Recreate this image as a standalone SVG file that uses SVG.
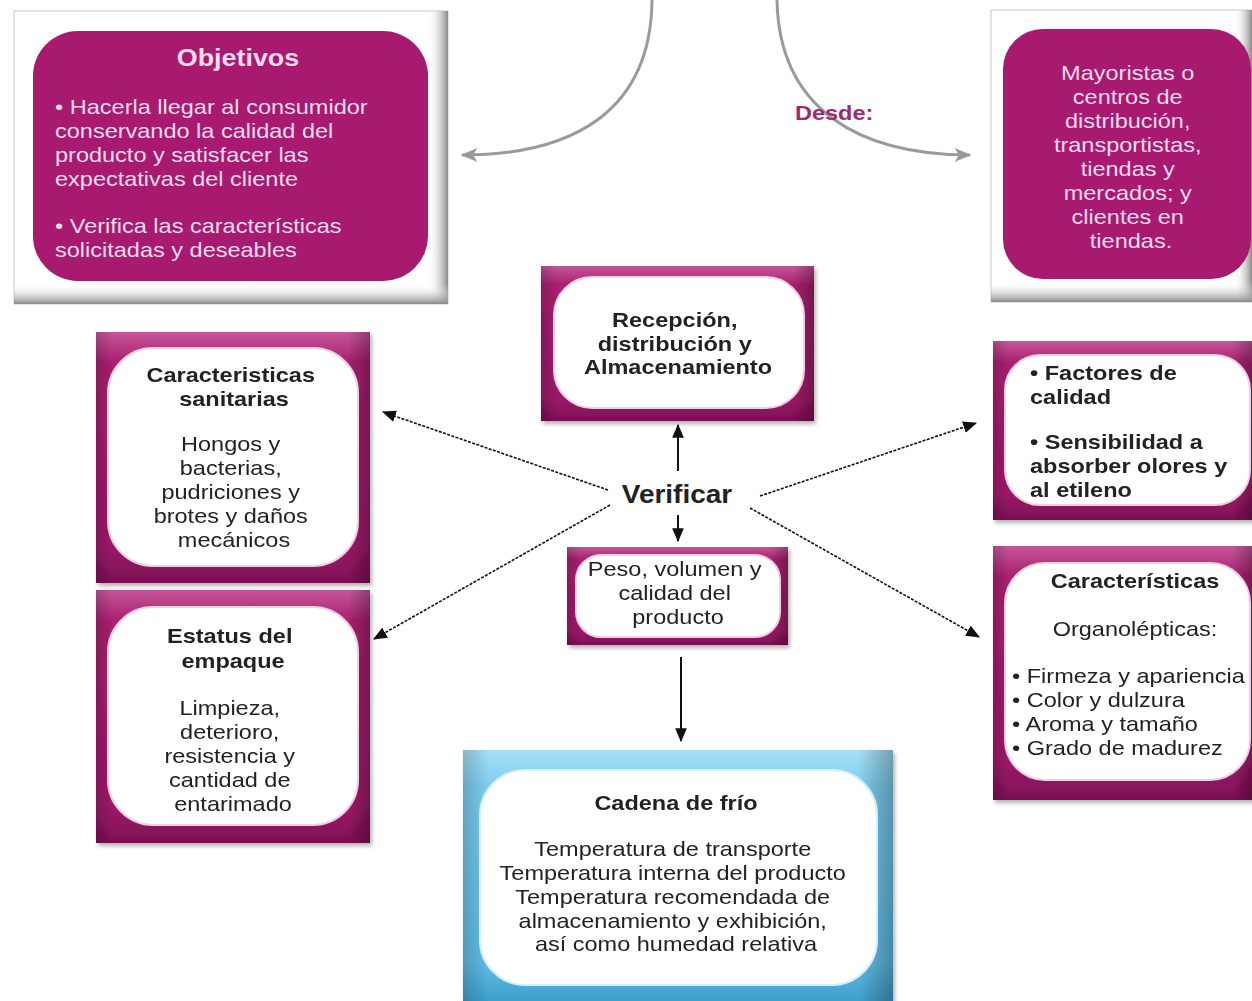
<svg xmlns="http://www.w3.org/2000/svg" width="1252" height="1001" viewBox="0 0 1252 1001">
<defs>
<linearGradient id="mag" x1="0" y1="0" x2="0" y2="1">
<stop offset="0" stop-color="#c6569a"/>
<stop offset="0.12" stop-color="#a8206f"/>
<stop offset="0.85" stop-color="#9e186a"/>
<stop offset="1" stop-color="#7c1053"/>
</linearGradient>
<linearGradient id="edgeH" x1="0" y1="0" x2="1" y2="0">
<stop offset="0" stop-color="#000" stop-opacity="0.18"/>
<stop offset="0.06" stop-color="#000" stop-opacity="0"/>
<stop offset="0.92" stop-color="#000" stop-opacity="0"/>
<stop offset="1" stop-color="#000" stop-opacity="0.28"/>
</linearGradient>
<linearGradient id="blue" x1="0" y1="0" x2="0" y2="1">
<stop offset="0" stop-color="#a6def5"/>
<stop offset="0.15" stop-color="#7ccdf0"/>
<stop offset="0.85" stop-color="#5fbde6"/>
<stop offset="1" stop-color="#3f9fcc"/>
</linearGradient>
<linearGradient id="frameR" x1="0" y1="0" x2="1" y2="0">
<stop offset="0" stop-color="#fff" stop-opacity="0"/>
<stop offset="1" stop-color="#8a8a8a"/>
</linearGradient>
<linearGradient id="frameB" x1="0" y1="0" x2="0" y2="1">
<stop offset="0" stop-color="#fff" stop-opacity="0"/>
<stop offset="1" stop-color="#8a8a8a"/>
</linearGradient>
<filter id="sh" x="-10%" y="-10%" width="125%" height="125%">
<feDropShadow dx="2" dy="3" stdDeviation="2" flood-color="#000" flood-opacity="0.3"/>
</filter>
<marker id="ah" viewBox="0 0 12 10" refX="11" refY="5" markerWidth="14" markerHeight="12" markerUnits="userSpaceOnUse" orient="auto">
<path d="M0,0 L12,5 L0,10 Z" fill="#111"/>
</marker>
<marker id="ag" viewBox="0 0 12 10" refX="11" refY="5" markerWidth="18" markerHeight="14" markerUnits="userSpaceOnUse" orient="auto">
<path d="M0,0 L12,5 L0,10 L3,5 Z" fill="#9a9a9a"/>
</marker>
</defs>
<style>
text { font-family: "Liberation Sans", Arial, sans-serif; font-size: 21px; fill: #222; }
.b { font-weight: bold; }
.pk { fill: #f7dcee; }
.ds { fill: #a0296f; font-weight: bold; }
.mag { fill: url(#mag); }
.edge { fill: url(#edgeH); }
.inner { fill: #fff; stroke: #edd0e2; stroke-width: 2; }
.frame { fill: #fff; stroke: #c8c8c8; stroke-width: 1; }
.magfill { fill: #a81a70; }
.dl { stroke: #111; stroke-width: 1.6; stroke-dasharray: 3 1.4; fill: none; }
.sl { stroke: #111; stroke-width: 2; fill: none; }
.gc { stroke: #9a9a9a; stroke-width: 3; fill: none; }
</style>
<rect width="1252" height="1001" fill="#fff"/>

<g id="connectors">
<path class="gc" d="M652,0 C651,110 575,155 462,155" marker-end="url(#ag)"/>
<path class="gc" d="M777,0 C779,110 860,155 970,155" marker-end="url(#ag)"/>
<line class="sl" x1="678" y1="471" x2="678" y2="425" marker-end="url(#ah)"/>
<line class="sl" x1="678" y1="515" x2="678" y2="541" marker-end="url(#ah)"/>
<line class="sl" x1="681" y1="657" x2="681" y2="741" marker-end="url(#ah)"/>
<line class="dl" x1="608" y1="490" x2="383" y2="412" marker-end="url(#ah)"/>
<line class="dl" x1="610" y1="505" x2="374" y2="639" marker-end="url(#ah)"/>
<line class="dl" x1="760" y1="496" x2="976" y2="423" marker-end="url(#ah)"/>
<line class="dl" x1="750" y1="508" x2="979" y2="637" marker-end="url(#ah)"/>
</g>

<g id="objetivos">
<rect class="frame" x="14" y="11" width="434" height="293"/>
<rect x="428" y="11" width="20" height="293" fill="url(#frameR)"/>
<rect x="14" y="284" width="434" height="20" fill="url(#frameB)"/>
<rect class="magfill" x="33" y="31" width="395" height="250" rx="45"/>
<text class="b pk" transform="translate(238 0) scale(1.12 1)" x="0" y="66" text-anchor="middle" style="font-size:24px">Objetivos</text>
<text class="pk" transform="translate(55 0) scale(1.12 1)">
<tspan x="0" y="114">• Hacerla llegar al consumidor</tspan>
<tspan x="0" y="138">conservando la calidad del</tspan>
<tspan x="0" y="162">producto y satisfacer las</tspan>
<tspan x="0" y="186">expectativas del cliente</tspan>
<tspan x="0" y="233">• Verifica las características</tspan>
<tspan x="0" y="257">solicitadas y deseables</tspan>
</text>
</g>

<g id="mayoristas">
<rect class="frame" x="991" y="10" width="262" height="292"/>
<rect x="1234" y="10" width="18" height="292" fill="url(#frameR)"/>
<rect x="991" y="282" width="262" height="20" fill="url(#frameB)"/>
<rect class="magfill" x="1003" y="29" width="248" height="250" rx="40"/>
<text class="pk" transform="translate(1131 0) scale(1.12 1)" text-anchor="middle">
<tspan x="0" y="80">Mayoristas o</tspan>
<tspan x="0" y="104">centros de</tspan>
<tspan x="0" y="128">distribución,</tspan>
<tspan x="0" y="152">transportistas,</tspan>
<tspan x="0" y="176">tiendas y</tspan>
<tspan x="0" y="200">mercados; y</tspan>
<tspan x="0" y="224">clientes en</tspan>
<tspan x="0" y="248">tiendas.</tspan>
</text>
</g>

<g id="desde">
<text class="ds" transform="translate(795 0) scale(1.12 1)" x="0" y="120">Desde:</text>
</g>

<g id="recepcion" filter="url(#sh)">
<rect class="mag" x="541" y="266" width="273" height="155"/>
<rect class="edge" x="541" y="266" width="273" height="155"/>
<rect class="inner" x="554" y="277" width="250" height="131" rx="38"/>
<text class="b" transform="translate(678 0) scale(1.12 1)" text-anchor="middle">
<tspan x="0" y="327">Recepción,</tspan>
<tspan x="0" y="351">distribución y</tspan>
<tspan x="0" y="374">Almacenamiento</tspan>
</text>
</g>

<g id="sanitarias" filter="url(#sh)">
<rect class="mag" x="96" y="332" width="274" height="251"/>
<rect class="edge" x="96" y="332" width="274" height="251"/>
<rect class="inner" x="108" y="348" width="250" height="218" rx="45"/>
<text class="b" transform="translate(234 0) scale(1.12 1)" text-anchor="middle">
<tspan x="0" y="382">Caracteristicas</tspan>
<tspan x="0" y="406">sanitarias</tspan>
</text>
<text transform="translate(234 0) scale(1.12 1)" text-anchor="middle">
<tspan x="0" y="451">Hongos y</tspan>
<tspan x="0" y="475">bacterias,</tspan>
<tspan x="0" y="499">pudriciones y</tspan>
<tspan x="0" y="523">brotes y daños</tspan>
<tspan x="0" y="547">mecánicos</tspan>
</text>
</g>

<g id="empaque" filter="url(#sh)">
<rect class="mag" x="96" y="590" width="274" height="253"/>
<rect class="edge" x="96" y="590" width="274" height="253"/>
<rect class="inner" x="108" y="607" width="250" height="218" rx="45"/>
<text class="b" transform="translate(233 0) scale(1.12 1)" text-anchor="middle">
<tspan x="0" y="643">Estatus del</tspan>
<tspan x="0" y="668">empaque</tspan>
</text>
<text transform="translate(233 0) scale(1.12 1)" text-anchor="middle">
<tspan x="0" y="715">Limpieza,</tspan>
<tspan x="0" y="739">deterioro,</tspan>
<tspan x="0" y="763">resistencia y</tspan>
<tspan x="0" y="787">cantidad de</tspan>
<tspan x="0" y="811">entarimado</tspan>
</text>
</g>

<g id="verificar">
<text class="b" transform="translate(677 0) scale(1.12 1)" x="0" y="503" text-anchor="middle" style="font-size:25px">Verificar</text>
</g>

<g id="peso" filter="url(#sh)">
<rect class="mag" x="567" y="547" width="221" height="98"/>
<rect class="edge" x="567" y="547" width="221" height="98"/>
<rect class="inner" x="576" y="555" width="204" height="82" rx="25"/>
<text transform="translate(678 0) scale(1.12 1)" text-anchor="middle">
<tspan x="0" y="576">Peso, volumen y</tspan>
<tspan x="0" y="600">calidad del</tspan>
<tspan x="0" y="624">producto</tspan>
</text>
</g>

<g id="factores" filter="url(#sh)">
<rect class="mag" x="993" y="341" width="260" height="179"/>
<rect class="edge" x="993" y="341" width="260" height="179"/>
<rect class="inner" x="1005" y="355" width="245" height="150" rx="35"/>
<text class="b" transform="translate(1030 0) scale(1.12 1)">
<tspan x="0" y="380">• Factores de</tspan>
<tspan x="0" y="404">calidad</tspan>
<tspan x="0" y="449">• Sensibilidad a</tspan>
<tspan x="0" y="473">absorber olores y</tspan>
<tspan x="0" y="497">al etileno</tspan>
</text>
</g>

<g id="organolepticas" filter="url(#sh)">
<rect class="mag" x="993" y="546" width="260" height="254"/>
<rect class="edge" x="993" y="546" width="260" height="254"/>
<rect class="inner" x="1005" y="563" width="245" height="217" rx="40"/>
<text class="b" transform="translate(1135 0) scale(1.12 1)" x="0" y="588" text-anchor="middle">Características</text>
<text transform="translate(1135 0) scale(1.12 1)" x="0" y="636" text-anchor="middle">Organolépticas:</text>
<text transform="translate(1012 0) scale(1.12 1)">
<tspan x="0" y="683">• Firmeza y apariencia</tspan>
<tspan x="0" y="707">• Color y dulzura</tspan>
<tspan x="0" y="731">• Aroma y tamaño</tspan>
<tspan x="0" y="755">• Grado de madurez</tspan>
</text>
</g>

<g id="cadena" filter="url(#sh)">
<rect x="463" y="750" width="430" height="251" fill="url(#blue)"/>
<rect class="edge" x="463" y="750" width="430" height="251"/>
<rect x="480" y="770" width="397" height="215" rx="45" fill="#fff" stroke="#d6eef8" stroke-width="2"/>
<text class="b" transform="translate(676 0) scale(1.12 1)" x="0" y="810" text-anchor="middle">Cadena de frío</text>
<text transform="translate(676 0) scale(1.12 1)" text-anchor="middle">
<tspan x="0" y="856">Temperatura de transporte</tspan>
<tspan x="0" y="880">Temperatura interna del producto</tspan>
<tspan x="0" y="904">Temperatura recomendada de</tspan>
<tspan x="0" y="928">almacenamiento y exhibición,</tspan>
<tspan x="0" y="951">así como humedad relativa</tspan>
</text>
</g>
</svg>
